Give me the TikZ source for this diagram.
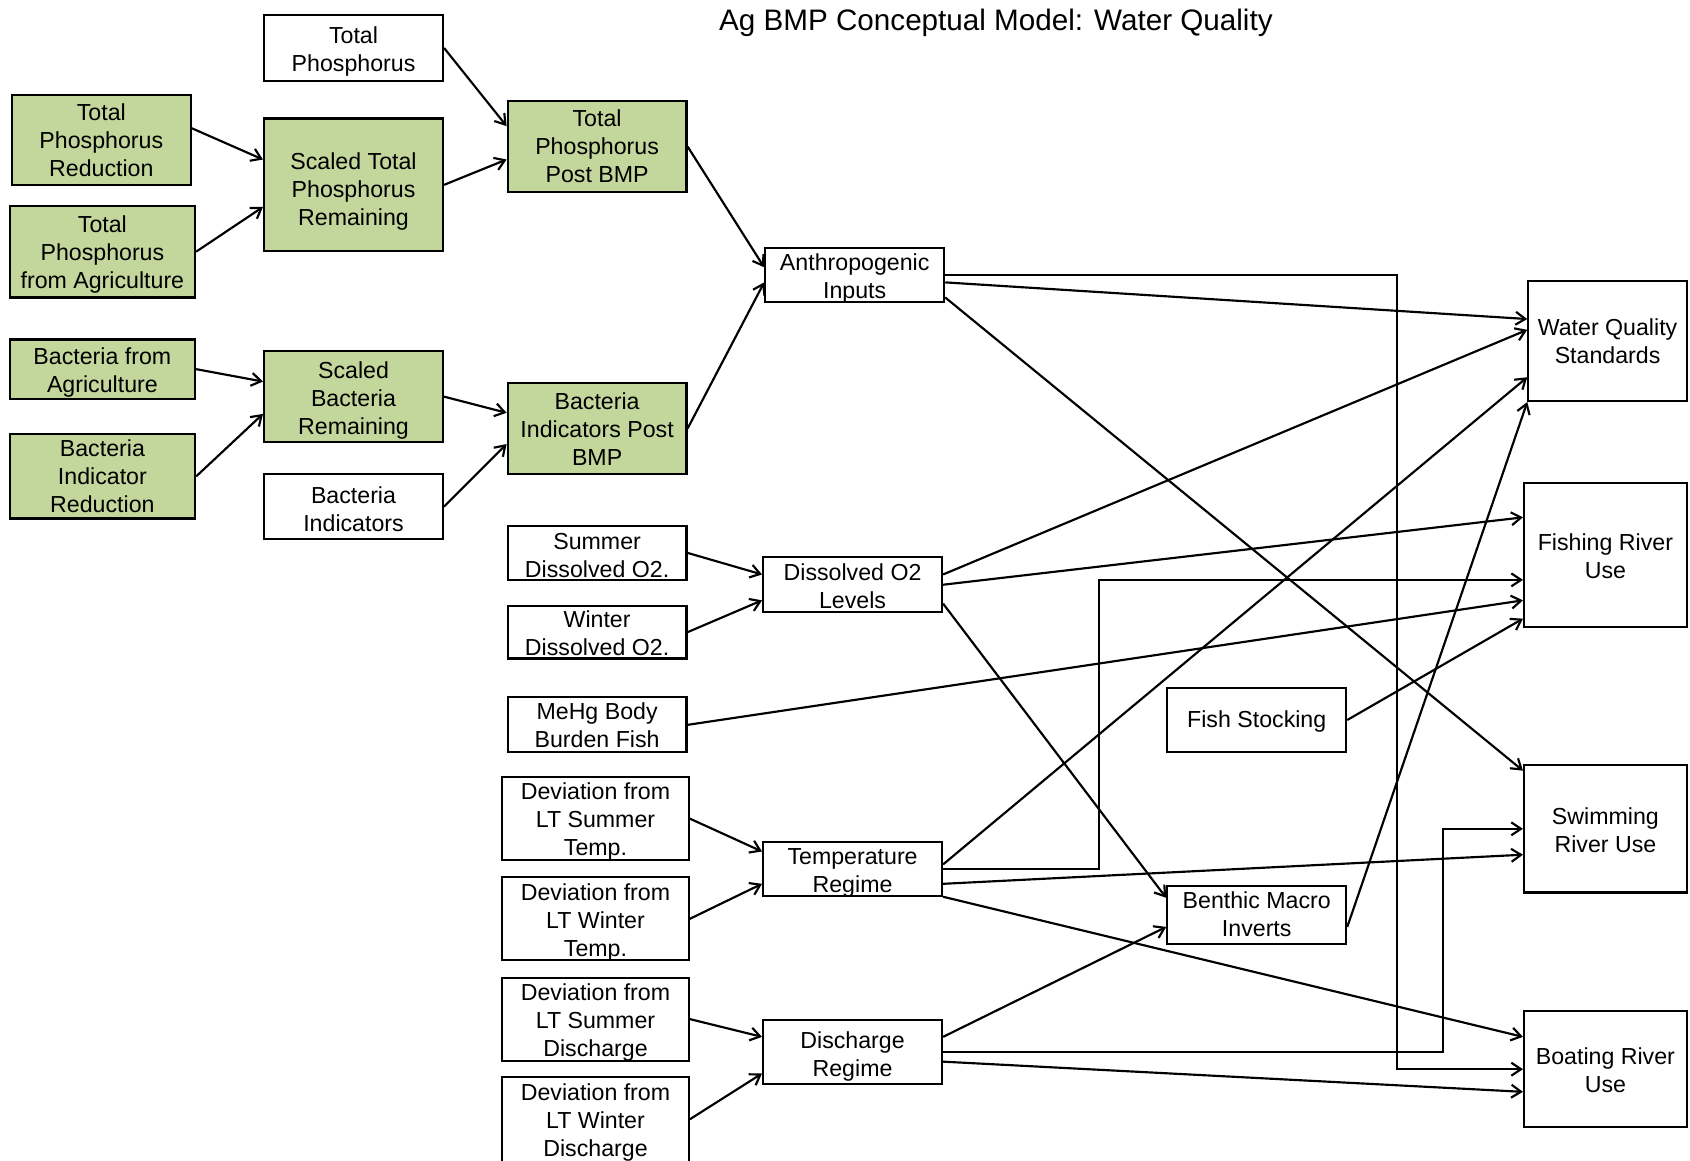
\documentclass[tikz,border=0pt]{standalone}
\usepackage{fontspec}
\setmainfont{Liberation Sans}
\usetikzlibrary{arrows.meta}
\definecolor{boxgreen}{RGB}{195,214,155}
\begin{document}
\begin{tikzpicture}[x=1pt,y=-1pt,
  box/.style={draw=black, line width=2pt, inner sep=0pt},
  wbox/.style={box, fill=white},
  gbox/.style={box, fill=boxgreen},
  lbl/.style={align=center, inner sep=0pt, font=\fontsize{21.5}{26}\selectfont},
  link/.style={line width=2pt,
    -{Straight Barb[length=9pt,width=12pt,line width=2pt]}},
]
\fill[white] (0,0) rectangle (1568,1077);
\useasboundingbox (0,0) rectangle (1568,1077);

\node[font=\fontsize{27.5}{33}\selectfont] (title) at (924,21)
  {Ag BMP Conceptual Model: Water Quality};

% phosphorus chain
\node[wbox, minimum width=166pt, minimum height=61pt,
  label={[lbl,yshift=-3pt]center:Total\\Phosphorus}] (tp) at (328,44.5) {};
\node[gbox, minimum width=166pt, minimum height=84pt,
  label={[lbl]center:Total\\Phosphorus\\Reduction}] (tpr) at (94,130) {};
\node[gbox, minimum width=172pt, minimum height=85pt,
  label={[lbl,yshift=-3pt]center:Total\\Phosphorus\\from Agriculture}] (tpa) at (95,233.5) {};
\node[gbox, minimum width=166pt, minimum height=123pt,
  label={[lbl,yshift=-6pt]center:Scaled Total\\Phosphorus\\Remaining}] (stp) at (328,171.5) {};
\node[gbox, minimum width=166pt, minimum height=84pt,
  label={[lbl]center:Total\\Phosphorus\\Post BMP}] (tpp) at (554,136) {};

% bacteria chain
\node[gbox, minimum width=172pt, minimum height=55pt,
  label={[lbl,yshift=-3pt]center:Bacteria from\\Agriculture}] (bfa) at (95,342.5) {};
\node[gbox, minimum width=172pt, minimum height=78pt,
  label={[lbl]center:Bacteria\\Indicator\\Reduction}] (bir) at (95,442) {};
\node[gbox, minimum width=166pt, minimum height=84pt,
  label={[lbl,yshift=-4pt]center:Scaled\\Bacteria\\Remaining}] (sbr) at (328,368) {};
\node[wbox, minimum width=166pt, minimum height=60pt,
  label={[lbl,yshift=-2pt]center:Bacteria\\Indicators}] (bi) at (328,470) {};
\node[gbox, minimum width=166pt, minimum height=85pt,
  label={[lbl,yshift=-1pt]center:Bacteria\\Indicators Post\\BMP}] (bip) at (554,397.5) {};

% intermediate drivers
\node[wbox, minimum width=166pt, minimum height=50pt,
  label={[lbl,yshift=-3pt]center:Anthropogenic\\Inputs}] (ai) at (793,255) {};
\node[wbox, minimum width=166pt, minimum height=50pt,
  label={[lbl,yshift=-2pt]center:Summer\\Dissolved O2.}] (sdo) at (554,513) {};
\node[wbox, minimum width=166pt, minimum height=49pt,
  label={[lbl,yshift=-1pt]center:Winter\\Dissolved O2.}] (wdo) at (554,586.5) {};
\node[wbox, minimum width=166pt, minimum height=51pt,
  label={[lbl,yshift=-1.5pt]center:Dissolved O2\\Levels}] (dol) at (791,542.5) {};
\node[wbox, minimum width=166pt, minimum height=51pt,
  label={[lbl]center:MeHg Body\\Burden Fish}] (mehg) at (554,672.5) {};
\node[wbox, minimum width=173pt, minimum height=77pt,
  label={[lbl,yshift=-3pt]center:Deviation from\\LT Summer\\Temp.}] (dst) at (552.5,759.5) {};
\node[wbox, minimum width=173pt, minimum height=77pt,
  label={[lbl,yshift=-3pt]center:Deviation from\\LT Winter\\Temp.}] (dwt) at (552.5,852.5) {};
\node[wbox, minimum width=166pt, minimum height=50pt,
  label={[lbl,yshift=-4pt]center:Temperature\\Regime}] (tr) at (791,806) {};
\node[wbox, minimum width=173pt, minimum height=77pt,
  label={[lbl,yshift=-3pt]center:Deviation from\\LT Summer\\Discharge}] (dsd) at (552.5,945.5) {};
\node[wbox, minimum width=173pt, minimum height=79pt,
  label={[lbl,yshift=-3pt]center:Deviation from\\LT Winter\\Discharge}] (dwd) at (552.5,1038.5) {};
\node[wbox, minimum width=166pt, minimum height=60pt,
  label={[lbl,yshift=-4pt]center:Discharge\\Regime}] (dr) at (791,976) {};
\node[wbox, minimum width=166pt, minimum height=60pt,
  label={[lbl,yshift=-1pt]center:Fish Stocking}] (fs) at (1166,668) {};
\node[wbox, minimum width=166pt, minimum height=54pt,
  label={[lbl,yshift=1pt]center:Benthic Macro\\Inverts}] (bmi) at (1166,849) {};

% endpoints
\node[wbox, minimum width=147pt, minimum height=111pt,
  label={[lbl]center:Water Quality\\Standards}] (wqs) at (1491.5,316.5) {};
\node[wbox, minimum width=151pt, minimum height=134pt,
  label={[lbl,yshift=-1pt]center:Fishing River\\Use}] (fru) at (1489.5,515) {};
\node[wbox, minimum width=151pt, minimum height=118pt,
  label={[lbl,yshift=-1pt]center:Swimming\\River Use}] (sru) at (1489.5,769) {};
\node[wbox, minimum width=151pt, minimum height=108pt,
  label={[lbl,yshift=-1pt]center:Boating River\\Use}] (bru) at (1489.5,992) {};

% phosphorus links
\draw[link] (tp.east) -- ([yshift=19pt]tpp.west);
\draw[link] ([yshift=11pt]tpr.east) -- ([yshift=23.5pt]stp.west);
\draw[link] (tpa.east) -- ([yshift=-20.5pt]stp.west);
\draw[link] (stp.east) -- ([yshift=-12pt]tpp.west);
\draw[link] (tpp.east) -- ([yshift=7pt]ai.west);

% bacteria links
\draw[link] (bfa.east) -- ([yshift=14pt]sbr.west);
\draw[link] (bir.east) -- ([yshift=-16pt]sbr.west);
\draw[link] (sbr.east) -- ([yshift=14.5pt]bip.west);
\draw[link] (bi.east) -- ([yshift=-14.5pt]bip.west);
\draw[link] (bip.east) -- ([yshift=-7pt]ai.west);

% anthropogenic inputs
\draw[link] ([yshift=-7pt]ai.east) -- ([yshift=20.5pt]wqs.west);
\draw[link] (ai.east) -| ([xshift=-117pt]bru.west) -- (bru.west);
\draw[link] ([yshift=-21pt]ai.east) -- ([yshift=54pt]sru.west);

% dissolved oxygen
\draw[link] (sdo.east) -- ([yshift=9.5pt]dol.west);
\draw[link] (wdo.east) -- ([yshift=-14.5pt]dol.west);
\draw[link] ([yshift=9.5pt]dol.east) -- ([yshift=10.5pt]wqs.west);
\draw[link] (dol.east) -- ([yshift=35pt]fru.west);
\draw[link] ([yshift=-17.5pt]dol.east) -- ([yshift=16pt]bmi.west);

% fish
\draw[link] (mehg.east) -- ([yshift=-42pt]fru.west);
\draw[link] (fs.east) -- ([yshift=-59pt]fru.west);

% temperature
\draw[link] (dst.east) -- ([yshift=16pt]tr.west);
\draw[link] (dwt.east) -- ([yshift=-14pt]tr.west);
\draw[link] ([yshift=4pt]tr.east) -- ([yshift=-33.5pt]wqs.west);
\draw[link] (tr.east) -| ([xshift=-393pt,yshift=-23pt]fru.west) -- ([yshift=-23pt]fru.west);
\draw[link] ([yshift=-14pt]tr.east) -- ([yshift=-24pt]sru.west);
\draw[link] (tr.south east) -- ([yshift=30pt]bru.west);

% discharge
\draw[link] (dsd.east) -- ([yshift=14pt]dr.west);
\draw[link] (dwd.east) -- ([yshift=-20pt]dr.west);
\draw[link] ([yshift=14pt]dr.east) -- ([yshift=-11pt]bmi.west);
\draw[link] (dr.east) -| ([xshift=-74pt]sru.west) -- (sru.west);
\draw[link] ([yshift=-9pt]dr.east) -- ([yshift=-21pt]bru.west);

% benthic invertebrates
\draw[link] ([yshift=-11pt]bmi.east) -- (wqs.south west);
\end{tikzpicture}
\end{document}
